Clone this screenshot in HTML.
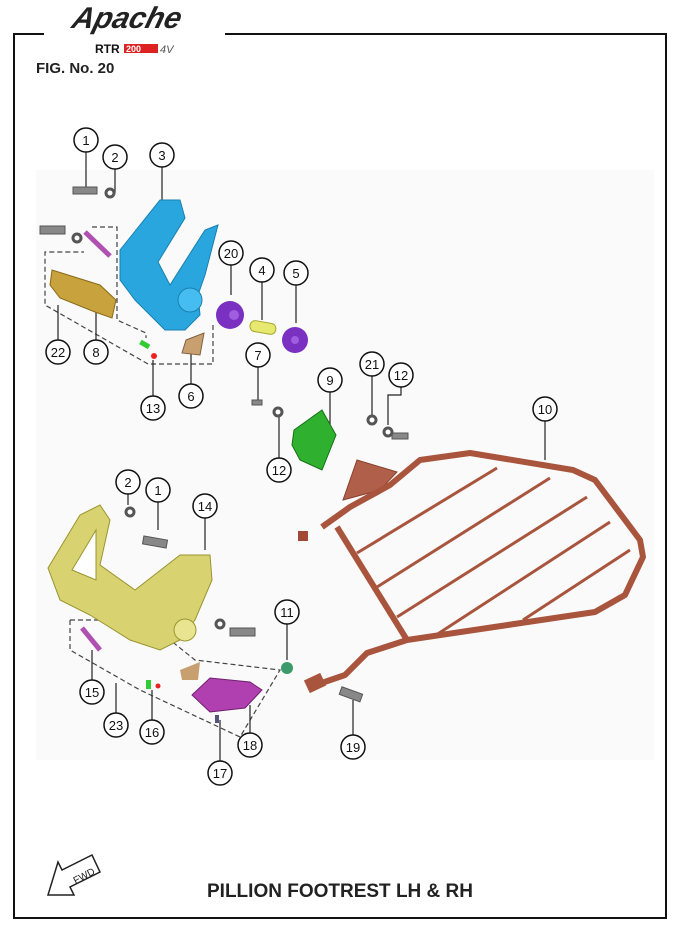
<!DOCTYPE html>
<html><head><meta charset="utf-8"><style>
body{margin:0;background:#fff;width:677px;height:930px;overflow:hidden}
svg{display:block}
text{font-family:"Liberation Sans",Arial,sans-serif}
</style></head><body>
<svg width="677" height="930" viewBox="0 0 677 930" xmlns="http://www.w3.org/2000/svg">
<rect x="36" y="170" width="618" height="590" fill="#fafafa"/>
<!-- border -->
<path d="M44 34 H14 V918 H666 V34 H225" fill="none" stroke="#111" stroke-width="2"/>
<!-- logo -->
<text x="70" y="28" font-size="30" font-style="italic" font-weight="bold" fill="#222" font-family="Liberation Serif,serif" transform="skewX(-15) translate(8 0)">Apache</text>
<text x="95" y="53" font-size="12" font-weight="bold" fill="#111">RTR</text>
<rect x="124" y="44" width="34" height="9" fill="#d22"/>
<text x="126" y="52" font-size="9" font-weight="bold" fill="#fff">200</text>
<text x="160" y="53" font-size="11" font-style="italic" fill="#555">4V</text>
<text x="36" y="73" font-size="15" font-weight="bold" fill="#222">FIG. No. 20</text>

<!-- dashed groups -->
<g fill="none" stroke="#444" stroke-width="1.2" stroke-dasharray="5,3">
<path d="M92 227 H117 V320 L146 333 V338 M213 325 V364 H148 L45 305 V252 H84"/>
<path d="M70 620 H110 M70 620 V650 L140 690 L240 737 L280 670 L195 660 L170 640"/>
</g>
<!-- leader lines -->
<g stroke="#222" stroke-width="1.2" fill="none">
<path d="M86 152 V187 M115 169 V193 M162 167 V210 M231 265 V295 M262 282 V320 M296 285 V323 M58 340 V305 M96 340 V310 M153 396 V360 M191 384 V345 M258 367 V400 M279 458 V412 M330 392 V440 M372 376 V415 M401 375 V395 H388 V425 M545 421 V460 M128 494 V505 M158 502 V530 M205 518 V550 M287 600 V660 M92 680 V650 M116 713 V683 M152 720 V690 M250 733 V705 M220 761 V720 M353 735 V700"/>
</g>
<!-- blue bracket 3 -->
<path d="M120 250 L160 200 L180 200 L185 218 L158 262 L170 285 L205 230 L218 225 L205 275 L198 295 L200 315 L185 330 L165 330 L135 300 L120 280 Z" fill="#2aa6de" stroke="#1780b0"/>
<circle cx="190" cy="300" r="12" fill="#46bdf0" stroke="#1780b0"/>
<!-- gold peg 8 -->
<path d="M52 270 L100 285 L116 300 L112 318 L95 312 L60 298 L50 285 Z" fill="#c8a23c" stroke="#8a6a18"/>
<!-- bolts -->
<g fill="#888" stroke="#555">
<rect x="73" y="187" width="24" height="7"/><circle cx="110" cy="193" r="4" fill="#fff" stroke-width="3"/>
<rect x="40" y="226" width="25" height="8"/><circle cx="77" cy="238" r="4" fill="#fff" stroke-width="3"/>
<rect x="143" y="538" width="24" height="8" transform="rotate(10 155 542)"/><circle cx="130" cy="512" r="4" fill="#fff" stroke-width="3"/>
<rect x="230" y="628" width="25" height="8"/><circle cx="220" cy="624" r="4" fill="#fff" stroke-width="3"/>
<rect x="340" y="690" width="22" height="8" transform="rotate(20 350 694)"/>
<circle cx="372" cy="420" r="4" fill="#fff" stroke-width="3"/><rect x="392" y="433" width="16" height="6"/><circle cx="388" cy="432" r="4" fill="#fff" stroke-width="3"/>
<circle cx="278" cy="412" r="4" fill="#fff" stroke-width="3"/><rect x="252" y="400" width="10" height="5"/>
</g>
<path d="M85 232 L110 256" stroke="#b050b0" stroke-width="5"/>
<path d="M82 628 L100 650" stroke="#b050b0" stroke-width="5"/>
<!-- purple 20,5 -->
<circle cx="230" cy="315" r="14" fill="#7a30c0"/><circle cx="234" cy="315" r="5" fill="#9f5de0"/>
<circle cx="295" cy="340" r="13" fill="#7a30c0"/><circle cx="295" cy="340" r="4" fill="#9f5de0"/>
<rect x="250" y="322" width="26" height="11" rx="5" fill="#e6e870" stroke="#a6a830" transform="rotate(10 263 327)"/>
<rect x="140" y="342" width="10" height="5" fill="#3c3" transform="rotate(30 145 344)"/>
<circle cx="154" cy="356" r="3" fill="#e22"/>
<path d="M186 340 L204 333 L200 355 L182 353 Z" fill="#c8a070" stroke="#806040"/>
<!-- green 9 -->
<path d="M294 430 L322 410 L336 435 L322 470 L300 460 L292 445 Z" fill="#2fb02f" stroke="#177017"/>
<!-- frame 10 -->
<path d="M343 500 L357 460 L397 472 L380 490 Z" fill="#b0604a" stroke="#8a3f2c"/>
<g fill="none" stroke="#a9553e" stroke-width="6" stroke-linejoin="round">
<path d="M322 527 L350 507 L390 485 L420 460 L470 453 L573 470 L595 480 L640 540 L643 557 L625 595 L595 612 L407 640 L367 653 L345 675 L310 687"/>
<path d="M337 527 L407 640"/>
</g>
<g stroke="#a9553e" stroke-width="3">
<path d="M357 553 L497 468 M377 587 L550 478 M397 617 L587 497 M433 637 L610 522 M523 620 L630 550"/>
</g>
<rect x="306" y="676" width="18" height="14" fill="#a9553e" transform="rotate(-25 315 683)"/>
<rect x="298" y="531" width="10" height="10" fill="#a04a35"/>
<!-- yellow bracket 14 -->
<path d="M48 568 L80 515 L100 505 L110 520 L100 565 L135 590 L180 555 L210 555 L212 580 L195 620 L180 640 L160 650 L130 640 L90 615 L60 600 Z" fill="#d8d270" stroke="#9a9430"/>
<path d="M72 570 L96 530 L96 580 Z" fill="#fff" stroke="#9a9430"/>
<circle cx="185" cy="630" r="11" fill="#e8e490" stroke="#9a9430"/>
<!-- pink 18 -->
<path d="M192 695 L210 678 L250 682 L262 690 L245 708 L210 712 Z" fill="#b040b0" stroke="#702070"/>
<path d="M180 670 L200 662 L198 680 L182 680 Z" fill="#c8a070"/>
<circle cx="287" cy="668" r="6" fill="#3a9a6a"/>
<rect x="146" y="680" width="5" height="9" fill="#3c3"/><circle cx="158" cy="686" r="2.5" fill="#e22"/>
<rect x="215" y="715" width="4" height="8" fill="#557"/>
<!-- callouts -->
<g fill="#fff" stroke="#111" stroke-width="1.5">
<circle cx="86" cy="140" r="12"/><circle cx="115" cy="157" r="12"/><circle cx="162" cy="155" r="12"/>
<circle cx="231" cy="253" r="12"/><circle cx="262" cy="270" r="12"/><circle cx="296" cy="273" r="12"/>
<circle cx="58" cy="352" r="12"/><circle cx="96" cy="352" r="12"/><circle cx="153" cy="408" r="12"/>
<circle cx="191" cy="396" r="12"/><circle cx="258" cy="355" r="12"/><circle cx="330" cy="380" r="12"/>
<circle cx="372" cy="364" r="12"/><circle cx="401" cy="375" r="12"/><circle cx="545" cy="409" r="12"/>
<circle cx="279" cy="470" r="12"/><circle cx="128" cy="482" r="12"/><circle cx="158" cy="490" r="12"/>
<circle cx="205" cy="506" r="12"/><circle cx="287" cy="612" r="12"/><circle cx="92" cy="692" r="12"/>
<circle cx="116" cy="725" r="12"/><circle cx="152" cy="732" r="12"/><circle cx="250" cy="745" r="12"/>
<circle cx="220" cy="773" r="12"/><circle cx="353" cy="747" r="12"/>
</g>
<g font-size="13" text-anchor="middle" fill="#111">
<text x="86" y="145">1</text><text x="115" y="162">2</text><text x="162" y="160">3</text>
<text x="231" y="258">20</text><text x="262" y="275">4</text><text x="296" y="278">5</text>
<text x="58" y="357">22</text><text x="96" y="357">8</text><text x="153" y="413">13</text>
<text x="191" y="401">6</text><text x="258" y="360">7</text><text x="330" y="385">9</text>
<text x="372" y="369">21</text><text x="401" y="380">12</text><text x="545" y="414">10</text>
<text x="279" y="475">12</text><text x="128" y="487">2</text><text x="158" y="495">1</text>
<text x="205" y="511">14</text><text x="287" y="617">11</text><text x="92" y="697">15</text>
<text x="116" y="730">23</text><text x="152" y="737">16</text><text x="250" y="750">18</text>
<text x="220" y="778">17</text><text x="353" y="752">19</text>
</g>
<!-- FWD -->
<path d="M48 895 L58 862 L62 870 L92 855 L100 872 L70 887 L74 895 Z" fill="#fff" stroke="#222" stroke-width="1.5"/>
<text x="72" y="882" font-size="10" transform="rotate(-28 78 876)" fill="#222">FWD</text>
<text x="340" y="897" font-size="19" font-weight="bold" text-anchor="middle" fill="#222">PILLION FOOTREST LH &amp; RH</text>
</svg>
</body></html>
